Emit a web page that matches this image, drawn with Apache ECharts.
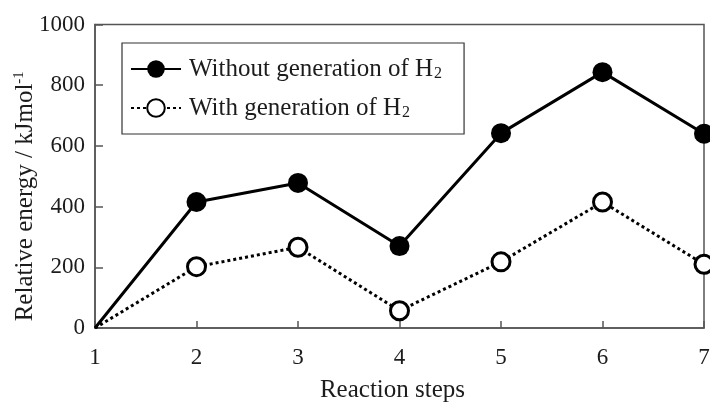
<!DOCTYPE html>
<html>
<head>
<meta charset="utf-8">
<style>
  html, body { margin: 0; padding: 0; background: #fff; }
  #chart { width: 710px; height: 405px; }
</style>
<script src="https://cdn.jsdelivr.net/npm/echarts@6/dist/echarts.min.js"></script>
</head>
<body>
<div id="chart"></div>
<script>
// Reaction steps along the x axis
const steps = [1, 2, 3, 4, 5, 6, 7];
// Relative energy (kJ/mol) for each step
const withoutH2 = [0, 415, 478, 270, 642, 843, 640];
const withH2 = [0, 202, 266, 57, 218, 415, 210];
// Y axis ticks
const yTicks = [0, 200, 400, 600, 800, 1000];

const serif = '"Liberation Serif", "Times New Roman", serif';
const ink = '#1c1c1c';
const axisGrey = '#555';

const chart = echarts.init(document.getElementById('chart'), null, { renderer: 'canvas' });

// The starting point (step 1, energy 0) is drawn without a marker
function pairs(values) {
  return steps.map((s, i) => i === 0
    ? { value: [s, values[i]], symbol: 'none' }
    : [s, values[i]]);
}

const option = {
  animation: false,
  backgroundColor: '#fff',
  grid: {
    left: 95, right: 6, top: 24.5, bottom: 77,
    outerBoundsMode: 'none',
    containLabel: false,
    show: true, borderColor: axisGrey, borderWidth: 1.5, backgroundColor: 'transparent'
  },
  legend: {
    left: 122, top: 43,
    orient: 'vertical',
    padding: [13, 22, 13, 8],
    itemGap: 13,
    itemWidth: 50, itemHeight: 22,
    borderColor: '#333', borderWidth: 1.2, borderRadius: 0,
    data: ['Without generation of H2', 'With generation of H2'],
    formatter: function (name) {
      return '{n|' + name.slice(0, -1) + '}{sub|2}';
    },
    textStyle: {
      fontFamily: serif, color: ink,
      rich: {
        n: { fontFamily: serif, fontSize: 25, color: ink, lineHeight: 26, padding: [0, 0, 0, 3] },
        sub: { fontFamily: serif, fontSize: 16, color: ink, lineHeight: 16, verticalAlign: 'bottom', padding: [10, 0, 0, 1] }
      }
    }
  },
  xAxis: {
    type: 'value',
    min: 1, max: 7, interval: 1,
    name: 'Reaction steps',
    nameLocation: 'middle',
    nameGap: 50,
    nameMoveOverlap: false,
    nameTextStyle: { fontFamily: serif, fontSize: 25, color: ink, padding: [0, 14, 0, 0] },
    axisLine: { show: true, lineStyle: { color: axisGrey, width: 1.5 } },
    axisTick: { show: true, inside: true, length: 7, lineStyle: { color: axisGrey, width: 1.5 } },
    axisLabel: { fontFamily: serif, fontSize: 23, color: ink, margin: 18 },
    splitLine: { show: false }
  },
  yAxis: {
    type: 'value',
    min: yTicks[0], max: yTicks[yTicks.length - 1], interval: yTicks[1] - yTicks[0],
    name: '{n|Relative energy / kJmol}{sup|-1}',
    nameLocation: 'middle',
    nameGap: 56,
    nameMoveOverlap: false,
    nameRotate: 90,
    nameTextStyle: {
      fontFamily: serif, color: ink, padding: [0, 40, 0, 0],
      rich: {
        n: { fontFamily: serif, fontSize: 25, color: ink, lineHeight: 27 },
        sup: { fontFamily: serif, fontSize: 15, color: ink, lineHeight: 27, verticalAlign: 'top', padding: [0, 0, 9, 0] }
      }
    },
    axisLine: { show: true, lineStyle: { color: axisGrey, width: 1.5 } },
    axisTick: { show: true, inside: true, length: 8, lineStyle: { color: axisGrey, width: 1.5 } },
    axisLabel: {
      fontFamily: serif, fontSize: 23, color: ink, margin: 10,
      formatter: function (v) { return String(v); }
    },
    splitLine: { show: false }
  },
  series: [
    {
      name: 'Without generation of H2',
      type: 'line',
      data: pairs(withoutH2),
      symbol: 'circle',
      symbolSize: 20,
      showSymbol: true,
      lineStyle: { color: '#000', width: 3, type: 'solid' },
      itemStyle: { color: '#000', borderColor: '#000', borderWidth: 0 },
      z: 3
    },
    {
      name: 'With generation of H2',
      type: 'line',
      data: pairs(withH2),
      symbol: 'circle',
      symbolSize: 18,
      showSymbol: true,
      lineStyle: { color: '#000', width: 3, type: [3, 3] },
      itemStyle: { color: '#fff', borderColor: '#000', borderWidth: 3 },
      z: 2
    }
  ]
};

chart.setOption(option);
</script>
</body>
</html>
